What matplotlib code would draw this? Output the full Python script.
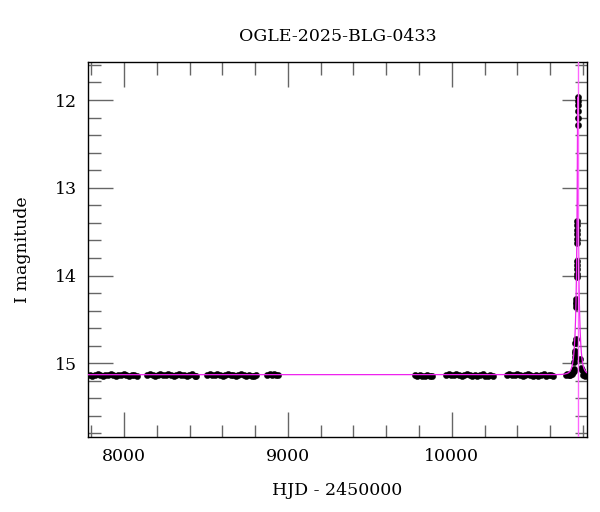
import numpy as np
import matplotlib
matplotlib.use("Agg")
import matplotlib.pyplot as plt
from matplotlib.ticker import MultipleLocator

plt.rcParams['font.family'] = ['DejaVu Serif']

title = "OGLE-2025-BLG-0433"
xlabel = "HJD - 2450000"
ylabel = "I magnitude"

# baseline seasons (HJD-2450000, I mag)
s1_t = [7790, 7806, 7822, 7838, 7854, 7870, 7886, 7902, 7918, 7934, 7950, 7966, 7982, 7998, 8014, 8030, 8046, 8062, 8076]
s1_m = [15.13, 15.14, 15.13, 15.12, 15.13, 15.14, 15.13, 15.13, 15.12, 15.13, 15.14, 15.13, 15.13, 15.12, 15.13, 15.14, 15.13, 15.13, 15.14]
s2_t = [8142, 8158, 8174, 8190, 8206, 8222, 8238, 8254, 8270, 8286, 8302, 8318, 8334, 8350, 8366, 8382, 8398, 8414, 8430, 8440]
s2_m = [15.13, 15.12, 15.13, 15.14, 15.13, 15.12, 15.13, 15.13, 15.12, 15.13, 15.14, 15.13, 15.12, 15.13, 15.13, 15.14, 15.13, 15.12, 15.14, 15.14]
s3_t = [8506, 8522, 8538, 8554, 8570, 8586, 8602, 8618, 8634, 8650, 8666, 8682, 8698, 8714, 8730, 8746, 8762, 8778, 8794, 8804]
s3_m = [15.13, 15.12, 15.13, 15.13, 15.12, 15.13, 15.14, 15.13, 15.12, 15.13, 15.13, 15.14, 15.13, 15.12, 15.13, 15.14, 15.13, 15.14, 15.14, 15.13]
s4_t = [8874, 8888, 8902, 8916, 8930, 8938]
s4_m = [15.13, 15.12, 15.13, 15.12, 15.13, 15.13]
s5_t = [9776, 9790, 9805, 9820, 9835, 9850, 9865, 9882]
s5_m = [15.13, 15.14, 15.13, 15.15, 15.14, 15.13, 15.15, 15.14]
s6_t = [9964, 9980, 9996, 10012, 10028, 10044, 10060, 10076, 10092, 10108, 10124, 10140, 10156, 10172, 10188, 10204, 10220, 10236, 10252]
s6_m = [15.13, 15.12, 15.13, 15.13, 15.12, 15.13, 15.14, 15.13, 15.12, 15.13, 15.14, 15.13, 15.14, 15.13, 15.12, 15.14, 15.15, 15.13, 15.14]
s7_t = [10336, 10352, 10368, 10384, 10400, 10416, 10432, 10448, 10464, 10480, 10496, 10512, 10528, 10544, 10560, 10576, 10592, 10608, 10616]
s7_m = [15.13, 15.12, 15.13, 15.13, 15.12, 15.13, 15.14, 15.13, 15.12, 15.13, 15.14, 15.13, 15.14, 15.13, 15.12, 15.14, 15.13, 15.13, 15.14]
s8_t = [10696, 10706, 10716, 10724, 10734, 10798, 10806, 10814, 10822]
s8_m = [15.13, 15.12, 15.13, 15.13, 15.12, 15.13, 15.12, 15.14, 15.13]
# event points
ev_t = [10740, 10744, 10746, 10748, 10750, 10751, 10752, 10754, 10755,
        10758.5, 10758.8, 10759, 10759.3, 10761, 10761.2, 10761.5, 10761.7, 10761.9,
        10763.3, 10763.5, 10763.7, 10763.9, 10764.1, 10764.3,
        10767.2, 10767.4, 10767.6, 10767.7, 10767.8, 10767.9,
        10784, 10790, 10795]
ev_m = [15.10, 15.09, 15.06, 14.98, 14.93, 14.88, 14.86, 14.77, 14.72,
        14.36, 14.33, 14.30, 14.27, 14.02, 13.98, 13.93, 13.88, 13.84,
        13.63, 13.58, 13.53, 13.48, 13.43, 13.38,
        12.29, 12.20, 12.12, 12.06, 12.01, 11.97,
        14.95, 15.05, 15.08]

# microlensing model parameters
t0 = 10768.0
tE = 20.0
u0 = 0.0544
I0 = 15.13

t_all = s1_t + s2_t + s3_t + s4_t + s5_t + s6_t + s7_t + s8_t + ev_t
m_all = s1_m + s2_m + s3_m + s4_m + s5_m + s6_m + s7_m + s8_m + ev_m

fig = plt.figure(figsize=(6, 5.12), dpi=100)
ax = fig.add_axes([88/600, 1-437/512, (587-88)/600, (437-62)/512])

ax.plot(t_all, m_all, 'o', color='black', ms=4.5, mec='black', mew=0.3, zorder=2)

tt = np.concatenate([np.linspace(7700, 10700, 200), np.linspace(10700, 10840, 4000)])
u = np.sqrt(u0**2 + ((tt - t0)/tE)**2)
A = (u**2 + 2)/(u*np.sqrt(u**2 + 4))
mod = I0 - 2.5*np.log10(A)
ax.plot(tt, mod, color='#ee22ee', lw=0.9, zorder=3)
ax.axvline(t0, color='#ff66ff', lw=1.0, zorder=3)

ax.set_xlim(7780, 10825)
ax.set_ylim(15.84, 11.567)
ax.xaxis.set_major_locator(MultipleLocator(1000))
ax.xaxis.set_minor_locator(MultipleLocator(200))
ax.yaxis.set_major_locator(MultipleLocator(1))
ax.yaxis.set_minor_locator(MultipleLocator(0.2))
ax.tick_params(which='both', direction='in', top=True, right=True, colors='#666666', labelcolor='black', labelsize=12.5, width=1)
ax.tick_params(which='major', length=18, pad=8)
ax.tick_params(which='minor', length=9)
for s in ax.spines.values():
    s.set_linewidth(1.0)
    s.set_color('black')

ax.set_title(title, fontsize=12.5, pad=15)
ax.set_xlabel(xlabel, fontsize=12.5, labelpad=12)
ax.set_ylabel(ylabel, fontsize=12.5, labelpad=17)

fig.savefig('out.png', dpi=100)
